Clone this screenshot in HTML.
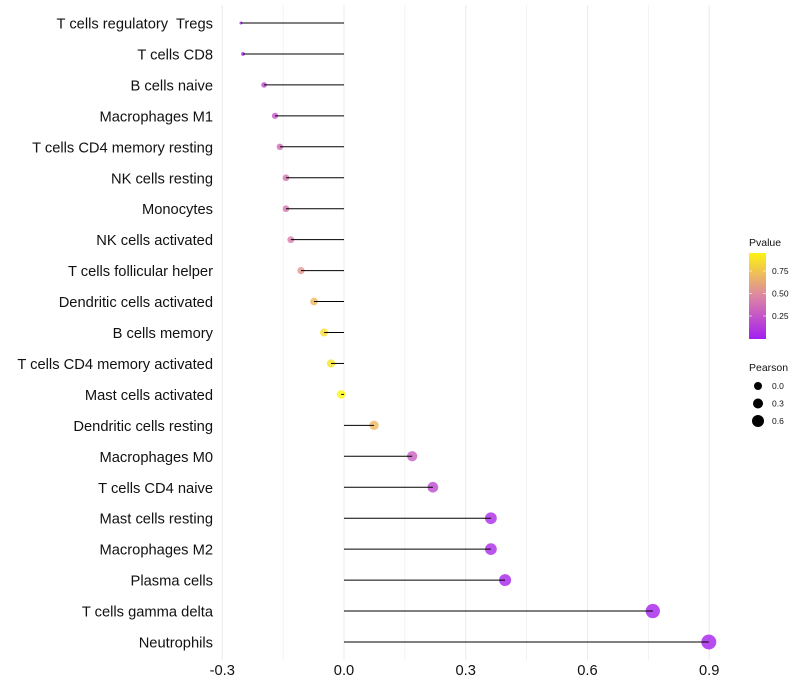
<!DOCTYPE html>
<html><head><meta charset="utf-8"><style>
body{margin:0;background:#fff;}
svg{display:block;font-family:"Liberation Sans",sans-serif;}
</style></head><body>
<svg id="chart" width="800" height="700"></svg>
<script>
const categories=["T cells regulatory\u00a0 Tregs","T cells CD8","B cells naive","Macrophages M1","T cells CD4 memory resting","NK cells resting","Monocytes","NK cells activated","T cells follicular helper","Dendritic cells activated","B cells memory","T cells CD4 memory activated","Mast cells activated","Dendritic cells resting","Macrophages M0","T cells CD4 naive","Mast cells resting","Macrophages M2","Plasma cells","T cells gamma delta","Neutrophils"];
const pearson=[-0.254,-0.249,-0.197,-0.17,-0.158,-0.143,-0.143,-0.131,-0.106,-0.074,-0.049,-0.032,-0.007,0.074,0.168,0.219,0.362,0.362,0.397,0.761,0.899];
const pvalue=[0.05,0.06,0.2,0.25,0.35,0.4,0.4,0.45,0.55,0.7,0.85,0.88,0.97,0.7,0.3,0.2,0.05,0.05,0.02,0.01,0.01];
const xTicks=[-0.3,0,0.3,0.6,0.9];
const xTickLabels=["-0.3","0.0","0.3","0.6","0.9"];
const legendP=[0.75,0.5,0.25];
const legendSize=[0.0,0.3,0.6];

const NS="http://www.w3.org/2000/svg";
const svg=document.getElementById('chart');
function mk(t,a,p){const e=document.createElementNS(NS,t);for(const k in a)e.setAttribute(k,a[k]);(p||svg).appendChild(e);return e;}
const x=v=>344+v*405.8;
const y=i=>23+i*30.95;
const pmin=Math.min(...pearson), pmax=Math.max(...pearson);
const r=v=>1.5+6*Math.sqrt(Math.max(0,(v-pmin)/(pmax-pmin)));
function lerp(a,b,t){return a.map((c,i)=>Math.round(c+(b[i]-c)*t));}
function col(p){const s=[[164,31,240],[224,138,160],[255,255,0]];let c=p<0.5?lerp(s[0],s[1],p/0.5):lerp(s[1],s[2],(p-0.5)/0.5);return `rgb(${c.join(',')})`;}

[-0.3,-0.15,0,0.15,0.3,0.45,0.6,0.75,0.9].forEach(v=>{
 const g=mk('line',{x1:x(v),x2:x(v),y1:5,y2:660,stroke:'#ebebeb','stroke-width':xTicks.includes(v)?1:0.6});
 
 
});
categories.forEach((c,i)=>{
 const cx=x(pearson[i]);
 const pt=mk('circle',{cx:cx,cy:y(i),r:r(pearson[i]),fill:col(pvalue[i]),'fill-opacity':0.8});
 
 
 const ln=mk('line',{x1:x(0),x2:cx,y1:y(i),y2:y(i),stroke:'#000','stroke-width':1});
 
 
 const t=mk('text',{x:213,y:y(i)+5.5,'text-anchor':'end','font-size':14.7,fill:'#111'});
 t.textContent=c;
 
 
});
xTicks.forEach((v,i)=>{
 const t=mk('text',{x:x(v),y:675,'text-anchor':'middle','font-size':14.7,fill:'#111'});
 t.textContent=xTickLabels[i];
 
 
});
const defs=mk('defs',{});
const lg=mk('linearGradient',{id:'pg',x1:0,y1:1,x2:0,y2:0},defs);
[0,0.25,0.5,0.75,1].forEach(o=>mk('stop',{offset:o,'stop-color':col(Math.min(1,o*0.95))},lg));
const lt=mk('text',{x:749,y:246,'font-size':10.5,fill:'#111'});lt.textContent='Pvalue';

const bar=mk('rect',{x:749,y:253,width:17,height:86,fill:'url(#pg)'});

legendP.forEach(p=>{
 const yy=338.5-p*90;
 mk('line',{x1:749,x2:752,y1:yy,y2:yy,stroke:'#fff','stroke-width':0.6});
 mk('line',{x1:763,x2:766,y1:yy,y2:yy,stroke:'#fff','stroke-width':0.6});
 const t=mk('text',{x:772,y:yy+3,'font-size':8.5,fill:'#111'});t.textContent=p.toFixed(2);
 
});
const st=mk('text',{x:749,y:371,'font-size':10.5,fill:'#111'});st.textContent='Pearson';

const lr=[4,5,6];
legendSize.forEach((s,i)=>{
 const yy=386+i*17.5;
 const c=mk('circle',{cx:758,cy:yy,r:lr[i],fill:'#000'});
 
 const t=mk('text',{x:772,y:yy+3,'font-size':8.5,fill:'#111'});t.textContent=s.toFixed(1);
 
});
</script>
</body></html>
